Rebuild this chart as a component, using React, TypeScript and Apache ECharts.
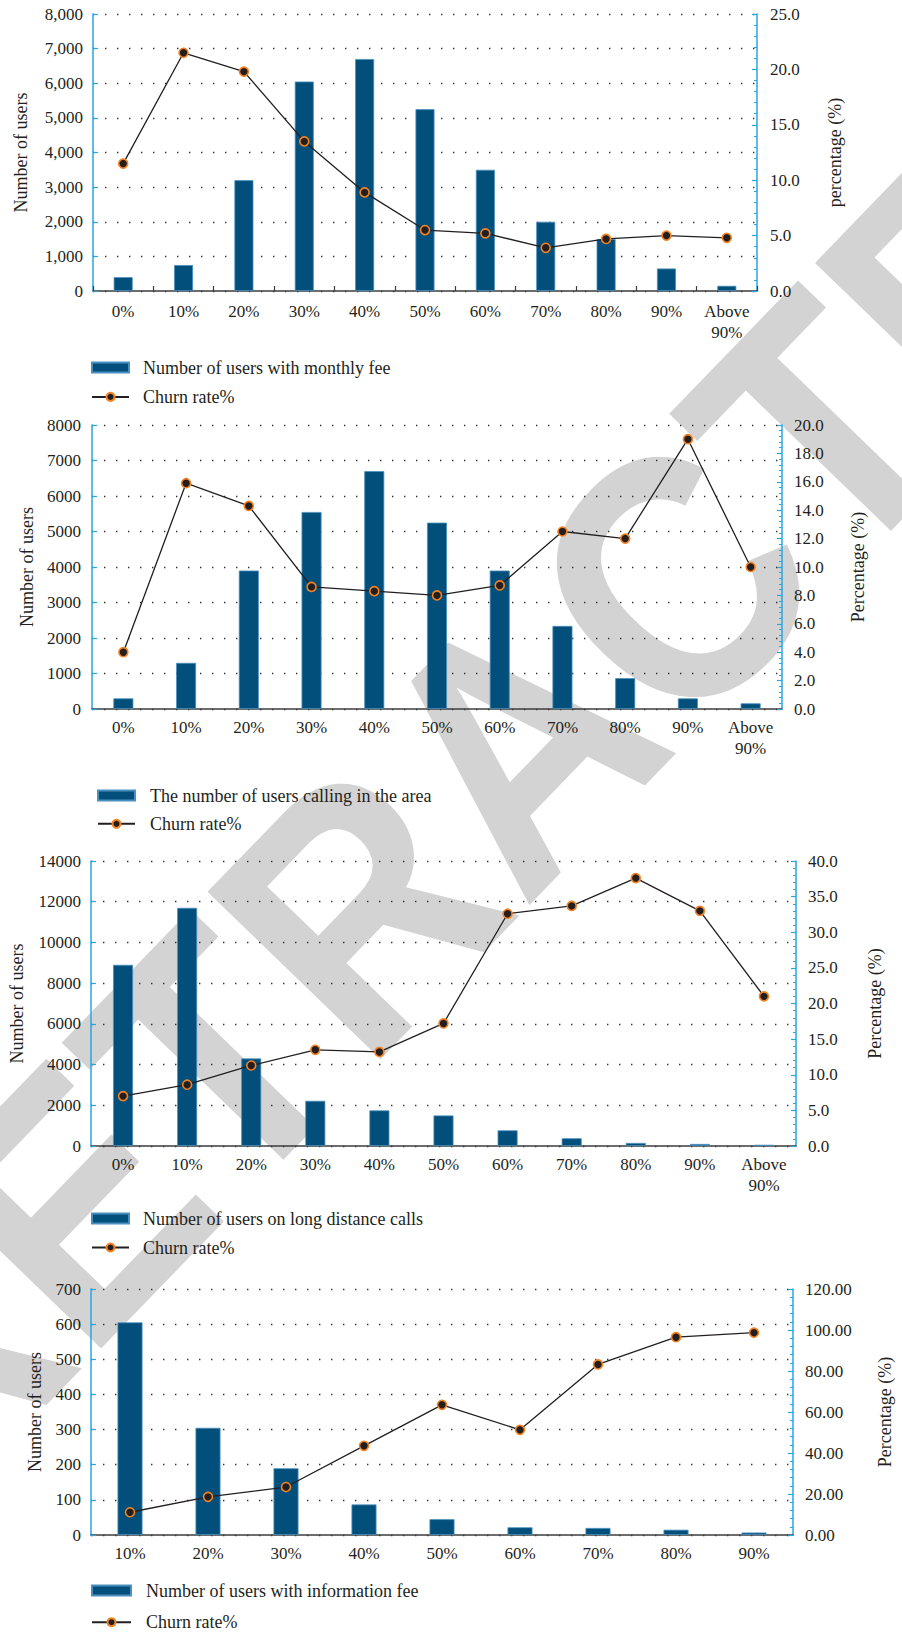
import React, { useEffect, useRef } from "react";
import * as echarts from "echarts";

// ---- data ----
const shareCategories = ["0%", "10%", "20%", "30%", "40%", "50%", "60%", "70%", "80%", "90%", "Above\n90%"];
const infoFeeCategories = ["10%", "20%", "30%", "40%", "50%", "60%", "70%", "80%", "90%"];

const monthlyFeeUsers = [400, 750, 3200, 6050, 6700, 5250, 3500, 2000, 1500, 650, 150];
const monthlyFeeChurn = [11.5, 21.5, 19.8, 13.5, 8.9, 5.5, 5.2, 3.9, 4.7, 5.0, 4.8];

const localCallUsers = [300, 1300, 3900, 5550, 6700, 5250, 3900, 2340, 870, 300, 160];
const localCallChurn = [4.0, 15.9, 14.3, 8.6, 8.3, 8.0, 8.7, 12.5, 12.0, 19.0, 10.0];

const longDistanceUsers = [8900, 11700, 4300, 2220, 1750, 1500, 770, 380, 150, 100, 60];
const longDistanceChurn = [7.0, 8.6, 11.3, 13.5, 13.2, 17.2, 32.6, 33.7, 37.6, 33.0, 21.0];

const infoFeeUsers = [605, 305, 190, 87, 45, 22, 20, 15, 7];
const infoFeeChurn = [11.1, 18.6, 23.4, 43.5, 63.5, 51.3, 83.2, 96.5, 98.7];

const barNames = [
  "Number of users with monthly fee",
  "The number of users calling in the area",
  "Number of users on long distance calls",
  "Number of users with information fee",
];
const lineName = "Churn rate%";
const leftAxisName = "Number of users";
const rightAxisNames = ["percentage (%)", "Percentage (%)", "Percentage (%)", "Percentage (%)"];
const stampText = "RETRACTED";

// ---- styling ----
const FONT = '"Liberation Serif", "DejaVu Serif", serif';
const TEXT = "#231f20";
const BAR = "#034f7b";
const BAR_EDGE = "#4a90bf";
const AXIS_BLUE = "#27a6e0";
const MARKER_EDGE = "#f5821f";

type Panel = {
  categories: string[];
  bars: number[];
  churn: number[];
  grid: { left: number; top: number; width: number; height: number };
  leftMax: number;
  leftStep: number;
  rightMax: number;
  rightStep: number;
  rightDecimals: number;
  comma: boolean;
  barWidth: number;
  xTicks: boolean;
  leftNameGap: number;
  rightNameGap: number;
  leftLabelMargin: number;
  rightLabelMargin: number;
  xLabelMargin: number;
  legend: { left: number; top: number; gap: number; pad: number; iconW: number };
};

const panels: Panel[] = [
  {
    categories: shareCategories, bars: monthlyFeeUsers, churn: monthlyFeeChurn,
    grid: { left: 93, top: 14, width: 664, height: 277 },
    leftMax: 8000, leftStep: 1000, rightMax: 25, rightStep: 5, rightDecimals: 1, comma: true,
    barWidth: 19, xTicks: true, leftNameGap: 63, rightNameGap: 69,
    leftLabelMargin: 10, rightLabelMargin: 13, xLabelMargin: 10,
    legend: { left: 91, top: 358, gap: 11.4, pad: 11, iconW: 37 },
  },
  {
    categories: shareCategories, bars: localCallUsers, churn: localCallChurn,
    grid: { left: 92, top: 425, width: 690, height: 284 },
    leftMax: 8000, leftStep: 1000, rightMax: 20, rightStep: 2, rightDecimals: 1, comma: false,
    barWidth: 20, xTicks: false, leftNameGap: 56, rightNameGap: 67,
    leftLabelMargin: 11, rightLabelMargin: 12, xLabelMargin: 8,
    legend: { left: 97, top: 786, gap: 10.3, pad: 12, iconW: 37 },
  },
  {
    categories: shareCategories, bars: longDistanceUsers, churn: longDistanceChurn,
    grid: { left: 91, top: 861, width: 705, height: 285 },
    leftMax: 14000, leftStep: 2000, rightMax: 40, rightStep: 5, rightDecimals: 1, comma: false,
    barWidth: 20, xTicks: false, leftNameGap: 65, rightNameGap: 70,
    leftLabelMargin: 10, rightLabelMargin: 12, xLabelMargin: 8,
    legend: { left: 91, top: 1209, gap: 11, pad: 11, iconW: 37 },
  },
  {
    categories: infoFeeCategories, bars: infoFeeUsers, churn: infoFeeChurn,
    grid: { left: 91, top: 1289, width: 710, height: 246 },
    leftMax: 700, leftStep: 100, rightMax: 120, rightStep: 20, rightDecimals: 2, comma: false,
    barWidth: 25, xTicks: false, leftNameGap: 47, rightNameGap: 83,
    leftLabelMargin: 10, rightLabelMargin: 12, xLabelMargin: 8,
    legend: { left: 91, top: 1581, gap: 13.7, pad: 12, iconW: 39 },
  },
];

// Large diagonal stamp word behind all four panels.
function stamp() {
  return {
    type: "text",
    z: -10,
    silent: true,
    x: 516,
    y: 745,
    rotation: (46 * Math.PI) / 180,
    scaleX: 0.9,
    style: {
      text: stampText,
      fill: "#d3d3d3",
      font: 'bold 350px "Liberation Sans", Arial, sans-serif',
      align: "center",
      verticalAlign: "middle",
    },
  };
}

function buildOption() {
  const grid: any[] = [];
  const xAxis: any[] = [];
  const yAxis: any[] = [];
  const legend: any[] = [];
  const series: any[] = [];

  panels.forEach((p, i) => {
    grid.push({ ...p.grid, containLabel: false });
    xAxis.push({
      type: "category",
      gridIndex: i,
      data: p.categories,
      axisLine: { show: true, lineStyle: { color: "#3c3c3c", width: 1.5 } },
      axisTick: { show: p.xTicks, inside: true, length: 5, lineStyle: { color: "#3c3c3c", width: 1.2 } },
      axisLabel: { color: TEXT, fontFamily: FONT, fontSize: 17, lineHeight: 21, margin: p.xLabelMargin, interval: 0 },
      splitLine: { show: false },
    });
    yAxis.push({
      type: "value",
      gridIndex: i,
      position: "left",
      min: 0,
      max: p.leftMax,
      interval: p.leftStep,
      name: leftAxisName,
      nameLocation: "middle",
      nameRotate: 90,
      nameGap: p.leftNameGap,
      nameTextStyle: { color: TEXT, fontFamily: FONT, fontSize: 18 },
      axisLine: { show: true, lineStyle: { color: AXIS_BLUE, width: 1.5 } },
      axisTick: { show: true, inside: true, length: 5, lineStyle: { color: AXIS_BLUE, width: 1.2 } },
      axisLabel: {
        color: TEXT, fontFamily: FONT, fontSize: 17, margin: p.leftLabelMargin,
        formatter: (v: number) => (p.comma ? v.toLocaleString("en-US") : String(v)),
      },
      splitLine: { show: true, lineStyle: { color: "#333", width: 1.4, type: [1.4, 10.6] } },
    });
    yAxis.push({
      type: "value",
      gridIndex: i,
      position: "right",
      min: 0,
      max: p.rightMax,
      interval: p.rightStep,
      name: rightAxisNames[i],
      nameLocation: "middle",
      nameRotate: 90,
      nameGap: p.rightNameGap,
      nameTextStyle: { color: TEXT, fontFamily: FONT, fontSize: 18 },
      axisLine: { show: true, lineStyle: { color: AXIS_BLUE, width: 1.5 } },
      axisTick: { show: true, inside: true, length: 5, lineStyle: { color: AXIS_BLUE, width: 1.2 } },
      minorTick: { show: true, splitNumber: 5, length: 3, lineStyle: { color: AXIS_BLUE, width: 1 } },
      axisLabel: {
        color: TEXT, fontFamily: FONT, fontSize: 17, margin: p.rightLabelMargin,
        formatter: (v: number) => v.toFixed(p.rightDecimals),
      },
      splitLine: { show: false },
    });
    legend.push({
      orient: "vertical",
      left: p.legend.left,
      top: p.legend.top + 0.5,
      padding: 0,
      height: 80,
      itemWidth: p.legend.iconW,
      itemHeight: 10,
      itemGap: p.legend.gap,
      selectedMode: false,
      data: [{ name: barNames[i], icon: "rect" }, { name: lineName }],
      textStyle: { color: TEXT, fontFamily: FONT, fontSize: 18, lineHeight: 18, padding: [0, 0, 0, p.legend.pad - 2] },
    });
    series.push({
      name: barNames[i],
      type: "bar",
      xAxisIndex: i,
      yAxisIndex: 2 * i,
      data: p.bars,
      barWidth: p.barWidth,
      itemStyle: { color: BAR, borderColor: BAR_EDGE, borderWidth: 0.8 },
      z: 2,
    });
    series.push({
      name: lineName,
      type: "line",
      xAxisIndex: i,
      yAxisIndex: 2 * i + 1,
      data: p.churn,
      symbol: "circle",
      symbolSize: 9,
      showAllSymbol: true,
      lineStyle: { color: TEXT, width: 1.3 },
      itemStyle: { color: TEXT, borderColor: MARKER_EDGE, borderWidth: 1.6 },
      z: 4,
    });
  });

  return {
    animation: false,
    backgroundColor: "#ffffff",
    textStyle: { fontFamily: FONT },
    graphic: { elements: [stamp()] },
    grid,
    xAxis,
    yAxis,
    legend,
    series,
  };
}

export default function App() {
  const ref = useRef<HTMLDivElement | null>(null);
  useEffect(() => {
    if (!ref.current) return;
    const chart = echarts.init(ref.current, undefined, { renderer: "svg" });
    chart.setOption(buildOption() as any);
    return () => chart.dispose();
  }, []);
  return (
    <div
      ref={ref}
      style={{ position: "absolute", left: 0, top: 0, width: 902, height: 1634, background: "#fff" }}
    />
  );
}
